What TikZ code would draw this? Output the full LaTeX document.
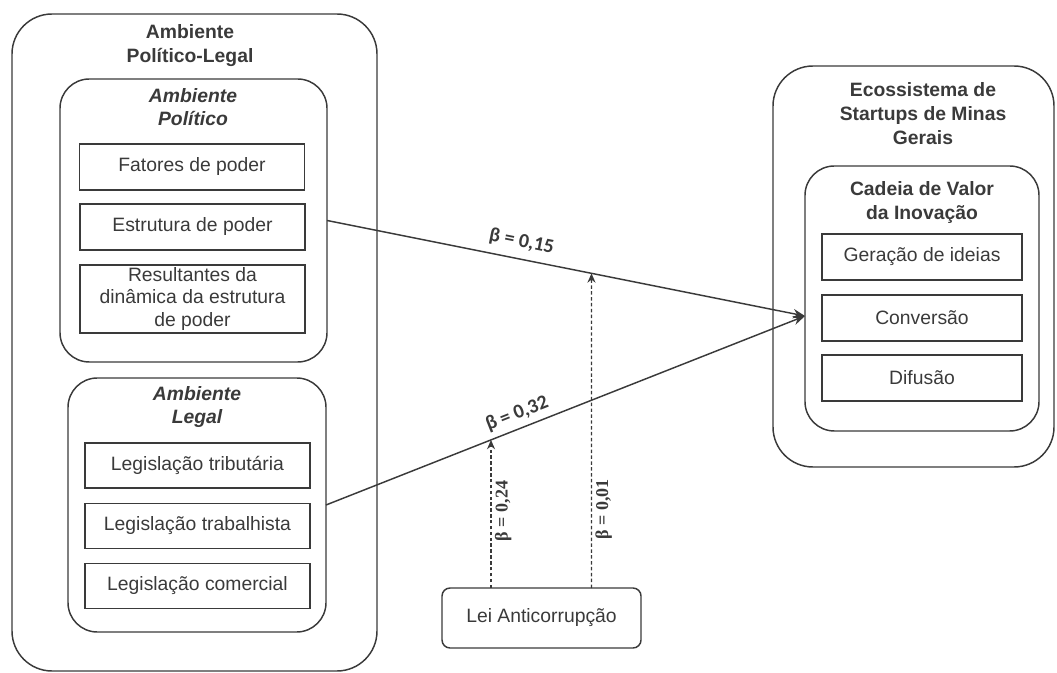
\documentclass[tikz,border=0pt]{standalone}
\usepackage{fontspec}
\setmainfont{Liberation Sans}
\newfontfamily\betafont{Carlito}
\newfontfamily\betaserif{Liberation Serif}
\usetikzlibrary{arrows.meta,fit,calc}
\definecolor{ink}{HTML}{3A3A3A}
\begin{document}
\begin{tikzpicture}[x=0.75pt,y=-0.75pt,
  every node/.style={text=ink, font=\fontsize{14.5}{17}\selectfont},
  container/.style={draw=ink, line width=1.1pt, inner sep=0pt, outer sep=0pt, rounded corners=#1},
  itembox/.style={draw=ink, line width=1.1pt, inner sep=0pt, outer sep=0pt, align=center},
  title/.style={font=\fontsize{14.5}{18}\selectfont\bfseries, align=center},
  ititle/.style={font=\fontsize{14.5}{17.5}\selectfont\bfseries\itshape, align=center},
  rel/.style={draw=ink, line width=1.1pt, -{Stealth[length=9pt,width=7pt]}},
  moder/.style={draw=ink, line width=1.1pt, dash pattern=on 2.6pt off 1.8pt, -{Stealth[length=7pt,width=6pt]}},
  blabel/.style={font=\fontsize{15}{17}\selectfont\betafont\bfseries, inner sep=1pt},
  vlabel/.style={font=\fontsize{13.5}{15}\selectfont\betaserif\bfseries, inner sep=2.5pt, rotate=90, anchor=north}
]
\useasboundingbox (0,0) rectangle (1057,673);

% Left outer container
\node (outerL) [container=30pt, fit={(12,14) (377,671)}] {};
\node (tOuterL) [title] at (190,46) {Ambiente\\Político-Legal};

% Ambiente Politico
\node (pol) [container=22pt, fit={(60,79) (327,362)}] {};
\node (tPol) [ititle] at (193,107) {Ambiente\\Político};
\node (fat) [itembox, minimum width=168.75pt, minimum height=34.5pt] at (192,167) {Fatores de poder};
\node (est) [itembox, minimum width=168.75pt, minimum height=34.5pt] at (192.5,227) {Estrutura de poder};
\node (res) [itembox, minimum width=168.75pt, minimum height=51pt] at (192.5,299) {Resultantes da\\dinâmica da estrutura\\de poder};

% Ambiente Legal
\node (leg) [container=22pt, fit={(68,378) (326,632)}] {};
\node (tLeg) [ititle] at (197,407) {Ambiente\\Legal};
\node (trib) [itembox, minimum width=168.75pt, minimum height=34pt] at (197.5,465.5) {Legislação tributária};
\node (trab) [itembox, minimum width=168.75pt, minimum height=34pt] at (197.5,526) {Legislação trabalhista};
\node (com) [itembox, minimum width=168.75pt, minimum height=34pt] at (197.5,586) {Legislação comercial};

% Right outer container
\node (outerR) [container=30pt, fit={(773,66) (1054,467)}] {};
\node (tOuterR) [title] at (923,114) {Ecossistema de\\Startups de Minas\\Gerais};

% Cadeia de valor
\node (cad) [container=22pt, fit={(805,166) (1039,431)}] {};
\node (tCad) [title] at (922,203) {Cadeia de Valor\\da Inovação};
\node (ger) [itembox, minimum width=150pt, minimum height=34.5pt] at (922,257) {Geração de ideias};
\node (conv) [itembox, minimum width=150pt, minimum height=34.5pt] at (922,318) {Conversão};
\node (dif) [itembox, minimum width=150pt, minimum height=34.5pt] at (922,378) {Difusão};

% Lei Anticorrupcao
\node (lei) [itembox, rounded corners=6pt, minimum width=149.25pt, minimum height=45pt] at (541.5,618) {Lei Anticorrupção};

% Relationships
\coordinate (tgt) at (805,316);
\draw[rel] (pol.east) -- node[blabel, sloped, above=5pt, pos=0.40] {β = 0,15} (tgt);
\draw[rel] (leg.east) -- node[blabel, sloped, above=3pt, pos=0.41] {β = 0,32} (tgt);

% Moderation
\coordinate (m1) at ($(lei.north)+(-50.5,0)$);
\coordinate (m2) at ($(lei.north)+(50,0)$);
\coordinate (m1top) at ($(m1)+(0,-300)$);
\coordinate (m2top) at ($(m2)+(0,-400)$);
\draw[moder] (m1) -- node[vlabel, pos=0.52] {β = 0,24}
  (intersection of leg.east--tgt and m1--m1top);
\draw[moder] (m2) -- node[vlabel, pos=0.25] {β = 0,01}
  (intersection of pol.east--tgt and m2--m2top);
\end{tikzpicture}
\end{document}
